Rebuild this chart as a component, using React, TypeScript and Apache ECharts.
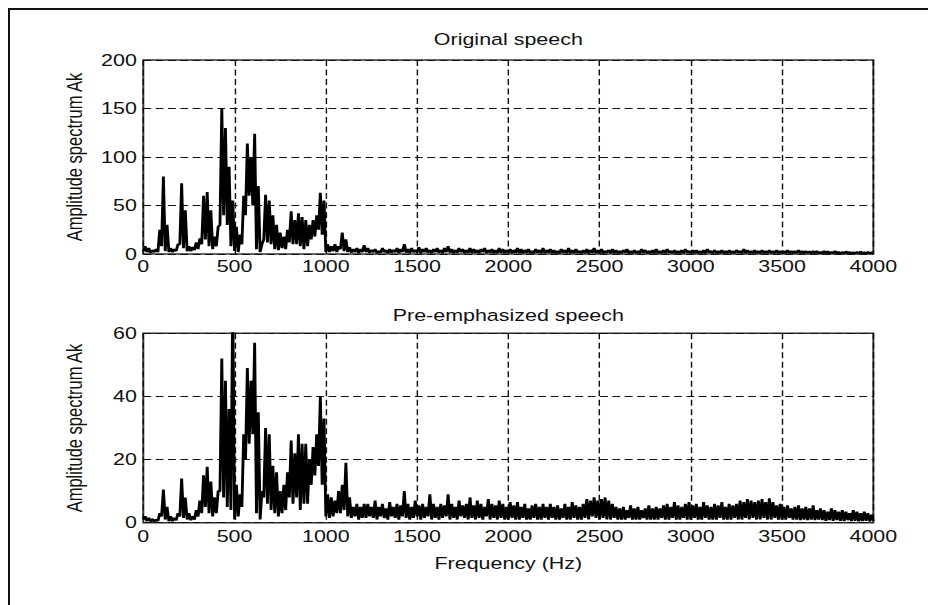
import React, { useEffect, useRef } from "react";
import * as echarts from "echarts";

// Amplitude spectra sampled in 20 Hz bins: for every bin the lowest (floor)
// and highest (peak) amplitude of the trace inside it.
const FREQ_STEP_HZ = 20;

// ---- Original speech -------------------------------------------------------
// 0 .. 1200 Hz (formant region)
const originalPeakFormant = [
  8, 6, 4, 5, 25, 80, 30, 6, 5, 10,
  73, 45, 8, 7, 12, 16, 60, 64, 45, 18,
  28, 150, 130, 90, 55, 28, 20, 60, 114, 100,
  124, 70, 10, 61, 55, 40, 30, 22, 18, 25,
  44, 35, 42, 38, 35, 30, 35, 40, 63, 55,
  10, 8, 10, 8, 22, 15, 7, 5, 6, 5,
  9,
];
const originalFloorFormant = [
  3, 2, 1, 2, 2, 8, 3, 2, 2, 3,
  10, 6, 3, 3, 4, 5, 10, 15, 8, 5,
  8, 30, 40, 30, 8, 3, 2, 10, 40, 60,
  50, 5, 2, 15, 12, 10, 5, 4, 6, 5,
  12, 10, 10, 8, 5, 8, 15, 18, 25, 20,
  2, 2, 3, 2, 5, 3, 2, 1.5, 2, 1,
  2,
];
// 1220 .. 4000 Hz
const originalPeakTail = [
  6, 4, 5, 3, 6, 4, 5, 4, 6, 5,
  10, 5, 6, 4, 7, 5, 6, 4, 5, 6,
  4, 6, 8, 5, 4, 6, 5, 4, 6, 5,
  4, 5, 6, 4, 5, 4, 6, 5, 4, 5,
  4, 6, 5, 4, 5, 3, 5, 4, 6, 4,
  5, 4, 3, 5, 4, 6, 4, 5, 3, 4,
  5, 4, 6, 4, 5, 3, 4, 5, 4, 3,
  4, 5, 3, 4, 3, 5, 4, 3, 4, 5,
  3, 4, 5, 3, 4, 3, 4, 5, 3, 4,
  4, 3, 4, 5, 3, 4, 3, 4, 3, 4,
  3, 4, 3, 5, 4, 3, 4, 3, 4, 3,
  4, 3, 4, 3, 3, 4, 3, 3, 4, 3,
  3, 2.5, 3, 3, 2, 3, 2.5, 2, 3, 2,
  2, 2.5, 2, 1.5, 2, 2.5, 1.5, 2, 1.5,
];
const originalFloorTail = [
  2, 1.5, 2, 1, 1.5, 2, 1, 1.5, 2, 1,
  2, 1.5, 1, 2, 1.5, 1, 2, 1.5, 1, 2,
  1.5, 1, 2, 1.5, 1, 1.5, 2, 1, 1.5, 1,
  1.5, 1, 2, 1, 1.5, 1, 1, 1.5, 1, 1.5,
  1, 1.5, 1, 1, 1.5, 1, 1, 1.5, 1, 1,
  1.5, 1, 1, 1, 1.5, 1, 1, 1, 1.5, 1,
  1, 1, 1.5, 1, 1, 1, 1.5, 1, 1, 1,
  1, 1.5, 1, 1, 1, 1, 1.5, 1, 1, 1,
  1, 1, 1, 1.5, 1, 1, 1, 1, 1.5, 1,
  1, 1, 1, 1, 1.5, 1, 1, 1, 1, 1,
  1, 1, 1.5, 1, 1, 1, 1, 1, 1, 1,
  1, 1, 1, 1, 0.8, 1, 1, 0.8, 1, 1,
  0.8, 1, 0.8, 1, 0.8, 0.8, 1, 0.8, 0.8, 1,
  0.8, 0.6, 0.8, 0.6, 0.8, 0.6, 0.6, 0.8, 0.6, 0.6,
];

// ---- Pre-emphasized speech -------------------------------------------------
const preemphPeakFormant = [
  2, 1.5, 1.2, 1, 3, 10.5, 5, 2, 1.5, 3,
  14, 8, 3, 2, 4, 7, 15, 17.7, 13, 8,
  10, 52, 45, 36, 72, 12, 9, 28, 49, 45,
  57, 35, 10, 30, 28, 18, 16, 10, 12, 16,
  26, 22, 28, 25, 25, 20, 24, 28, 40, 33,
  9, 8, 7, 10, 12, 19, 8, 5, 6, 5,
  6,
];
const preemphFloorFormant = [
  1, 0.5, 0.4, 0.3, 0.5, 2, 1, 0.5, 0.5, 0.8,
  2, 1.5, 1, 0.8, 1, 2, 3, 5, 3, 2,
  3, 10, 8, 5, 4, 1, 2, 5, 20, 25,
  28, 3, 1, 8, 6, 4, 3, 2, 3, 4,
  8, 6, 8, 4, 6, 6, 12, 15, 18, 12,
  2, 1.5, 2, 3, 3, 4, 2, 1.5, 2, 1,
  1.5,
];
const preemphPeakTail = [
  6, 5, 7, 5, 6, 4.5, 6.5, 5, 6, 5.5,
  10, 6, 5, 7, 5.5, 6, 5, 9, 6, 5,
  6, 5.5, 9, 6, 5, 7, 5.5, 6, 8, 5.5,
  7, 6, 5, 7.5, 6, 5.5, 7, 6, 5, 6.5,
  5.5, 6.5, 5, 6, 4.5, 5.5, 6, 5, 6, 5,
  6, 5, 5.5, 4.5, 6, 5, 6.5, 5.5, 5, 6,
  7.5, 7, 8, 7, 7.5, 8, 7, 6, 5, 4.5,
  5, 4, 5.5, 4.5, 5, 4, 4.5, 5.5, 4.5, 5,
  4.5, 5.5, 6, 5, 6.5, 5.5, 5, 6, 6.5, 5.5,
  6, 5, 6.5, 5.5, 5, 6, 5.5, 6.5, 5, 6,
  5.5, 6, 7, 6.5, 7.5, 7, 6.5, 7, 7.5, 6.5,
  7.7, 6.5, 5.5, 6, 5, 5.5, 4.5, 5, 5.5, 4.5,
  5, 4.5, 5.5, 4, 4.5, 4, 3.5, 4.5, 4, 3.5,
  4, 3.5, 3, 4, 3.5, 3, 3.5, 3, 2.5,
];
const preemphFloorTail = [
  1.5, 2, 1.5, 1, 2, 1.5, 1, 2, 1.5, 1,
  2, 1.5, 1, 1.5, 2, 1, 1.5, 2, 1, 1.5,
  1, 1.5, 2, 1, 1.5, 1, 2, 1.5, 1, 1.5,
  1, 1.5, 1, 2, 1, 1.5, 1, 1.5, 1, 1,
  1.5, 1, 1, 1.5, 1, 1, 1.5, 1, 1, 1.5,
  1, 1.5, 1, 1, 1.5, 1, 1, 1.5, 1, 1,
  1.5, 1, 2, 1.5, 1, 1.5, 1, 1, 1.5, 1,
  1, 1, 1.5, 1, 1, 1, 1.5, 1, 1, 1,
  1, 1.5, 1, 1, 1.5, 1, 1, 1.5, 1, 1,
  1.5, 1, 1, 1.5, 1, 1, 1, 1.5, 1, 1,
  1, 1.5, 1, 1, 1.5, 1, 1.5, 1, 1, 1.5,
  1, 1, 1.5, 1, 1, 1, 1.5, 1, 1, 0.8,
  1, 0.8, 1, 0.8, 1, 0.8, 0.6, 0.8, 0.6, 0.8,
  0.6, 0.5, 0.8, 0.5, 0.6, 0.4, 0.5, 0.6, 0.4, 0.5,
];

// ---- Axes ------------------------------------------------------------------
const frequencyTicks = [0, 500, 1000, 1500, 2000, 2500, 3000, 3500, 4000];
const originalTicks = [0, 50, 100, 150, 200];
const preemphTicks = [0, 20, 40, 60];

const titles = ["Original speech", "Pre-emphasized speech"];
const yAxisTitle = "Amplitude spectrum Ak";
const xAxisTitle = "Frequency (Hz)";

// Drawing is done on a narrower canvas that is widened horizontally.
const CHART_W = 708;
const CHART_H = 595;
const STRETCH = 920 / CHART_W;

const FONT = "'Liberation Sans', Arial, Helvetica, sans-serif";
const FONT_SIZE = 16.5;
const INK = "#111";

const GRID_LEFT = 102.6;
const GRID_RIGHT = 43.6;
const PLOT_CX = GRID_LEFT + (CHART_W - GRID_LEFT - GRID_RIGHT) / 2;

function envelope(floor: number[], peak: number[]): [number, number][] {
  const pts: [number, number][] = [];
  peak.forEach((p, i) => {
    pts.push([i * FREQ_STEP_HZ, floor[i]]);
    pts.push([i * FREQ_STEP_HZ + FREQ_STEP_HZ / 2, p]);
  });
  pts.push([peak.length * FREQ_STEP_HZ, floor[peak.length]]);
  return pts;
}

const labelText = { color: INK, fontSize: FONT_SIZE, fontFamily: FONT };
const plainNumber = (v: number) => String(v);

const splitLine = {
  show: true,
  lineStyle: { color: "#111", width: 1.1, type: [6, 3.5] as number[] },
};

function xAxisFor(gridIndex: number, margin: number, withName: boolean) {
  return {
    type: "value" as const,
    gridIndex,
    min: frequencyTicks[0],
    max: frequencyTicks[frequencyTicks.length - 1],
    interval: frequencyTicks[1] - frequencyTicks[0],
    name: withName ? xAxisTitle : "",
    nameLocation: "middle" as const,
    nameGap: 32,
    nameTextStyle: labelText,
    axisLine: { show: false },
    axisTick: { show: false },
    axisLabel: { ...labelText, margin, formatter: plainNumber },
    splitLine,
  };
}

function yAxisFor(gridIndex: number, ticks: number[]) {
  return {
    type: "value" as const,
    gridIndex,
    min: ticks[0],
    max: ticks[ticks.length - 1],
    interval: ticks[1] - ticks[0],
    name: yAxisTitle,
    nameLocation: "middle" as const,
    nameRotate: 90,
    nameGap: 44,
    nameTextStyle: labelText,
    axisLine: { show: false },
    axisTick: { show: false },
    axisLabel: { ...labelText, margin: 5, formatter: plainNumber },
    splitLine,
  };
}

const gridBox = {
  show: true,
  borderColor: "#333",
  borderWidth: 1.5,
  backgroundColor: "transparent",
  left: GRID_LEFT,
  right: GRID_RIGHT,
  containLabel: false,
};

const traceStyle = { color: "#000", width: 2.2 };

const option = {
  animation: false,
  backgroundColor: "#fff",
  title: titles.map((text, i) => ({
    text,
    left: PLOT_CX,
    top: i === 0 ? 21 : 296.5,
    textAlign: "center",
    padding: 0,
    textStyle: { ...labelText, fontWeight: "normal" },
  })),
  grid: [
    { ...gridBox, top: 50, height: 194 },
    { ...gridBox, top: 323.3, height: 189.4 },
  ],
  xAxis: [xAxisFor(0, 4, false), xAxisFor(1, 5, true)],
  yAxis: [yAxisFor(0, originalTicks), yAxisFor(1, preemphTicks)],
  series: [
    {
      name: titles[0],
      type: "line",
      xAxisIndex: 0,
      yAxisIndex: 0,
      symbol: "none",
      clip: true,
      silent: true,
      lineStyle: traceStyle,
      data: envelope(
        [...originalFloorFormant, ...originalFloorTail],
        [...originalPeakFormant, ...originalPeakTail]
      ),
    },
    {
      name: titles[1],
      type: "line",
      xAxisIndex: 1,
      yAxisIndex: 1,
      symbol: "none",
      clip: true,
      silent: true,
      lineStyle: traceStyle,
      data: envelope(
        [...preemphFloorFormant, ...preemphFloorTail],
        [...preemphPeakFormant, ...preemphPeakTail]
      ),
    },
  ],
};

export default function App() {
  const ref = useRef<HTMLDivElement>(null);

  useEffect(() => {
    if (!ref.current) return;
    // the framed figure runs past the window edge; keep the page from scrolling
    const html = document.documentElement.style.overflow;
    const body = document.body.style.overflow;
    document.documentElement.style.overflow = "hidden";
    document.body.style.overflow = "hidden";
    const chart = echarts.init(ref.current, null, {
      renderer: "svg",
      width: CHART_W,
      height: CHART_H,
    });
    chart.setOption(option as any);
    return () => {
      chart.dispose();
      document.documentElement.style.overflow = html;
      document.body.style.overflow = body;
    };
  }, []);

  return (
    <div
      style={{
        position: "fixed",
        left: 8,
        top: 8,
        width: 930,
        height: 610,
        boxSizing: "border-box",
        borderTop: "2px solid #111",
        borderLeft: "2px solid #111",
        overflow: "hidden",
        background: "#fff",
      }}
    >
      <div
        ref={ref}
        style={{
          position: "absolute",
          left: 0,
          top: 0,
          width: CHART_W,
          height: CHART_H,
          transform: `scaleX(${STRETCH})`,
          transformOrigin: "0 0",
        }}
      />
    </div>
  );
}
